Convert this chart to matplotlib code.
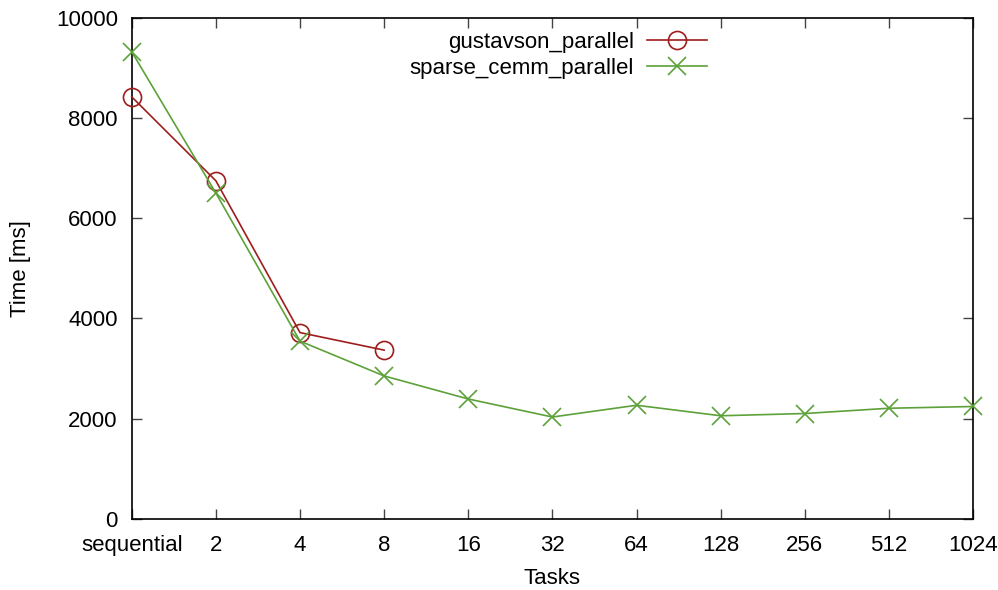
import matplotlib
matplotlib.use("Agg")
import matplotlib.pyplot as plt

tasks = ["sequential", "2", "4", "8", "16", "32", "64", "128", "256", "512", "1024"]
gustavson_parallel = [8420, 6745, 3715, 3365]
sparse_cemm_parallel = [9320, 6500, 3545, 2850, 2390, 2030, 2265, 2055, 2100, 2205, 2240]
yticks = [0, 2000, 4000, 6000, 8000, 10000]

plt.rcParams['font.family'] = ['Liberation Sans', 'DejaVu Sans']

fig = plt.figure(figsize=(9.98, 5.9), dpi=100)
ax = fig.add_axes([0.132, 0.1208, 0.975 - 0.132, 0.970 - 0.1208])

red = '#9e1d1d'
green = '#5da13a'

x_all = list(range(len(tasks)))
ax.plot(x_all[:len(gustavson_parallel)], gustavson_parallel, color=red, lw=1.2,
        marker='o', ms=13, mfc='none', mec=red, mew=1.2, label='gustavson_parallel',
        clip_on=False, zorder=3)
ax.plot(x_all, sparse_cemm_parallel, color=green, lw=1.2,
        marker='x', ms=13, mew=1.2, label='sparse_cemm_parallel', clip_on=False, zorder=3)

ax.set_xlim(0, len(tasks) - 1)
ax.set_ylim(0, 10000)
ax.set_xticks(x_all)
ax.set_xticklabels(tasks)
ax.set_yticks(yticks)
ax.tick_params(direction='in', top=True, right=True, length=7, width=1,
               labelsize=16, color='#444444')
ax.tick_params(axis='x', pad=12)
ax.tick_params(axis='y', pad=10)
for s in ax.spines.values():
    s.set_linewidth(1.2)
ax.set_xlabel('Tasks', fontsize=16, labelpad=8)
ax.set_ylabel('Time [ms]', fontsize=16, labelpad=18)

leg = ax.legend(loc='upper right', bbox_to_anchor=(716 / 998, 1 - 23 / 590),
                bbox_transform=fig.transFigure, frameon=False,
                markerfirst=False, fontsize=16, handlelength=2.7,
                handletextpad=0.6, labelspacing=0.22, borderaxespad=0.0)
for t in leg.get_texts():
    t.set_ha('right')

fig.savefig('out.png', dpi=100)
